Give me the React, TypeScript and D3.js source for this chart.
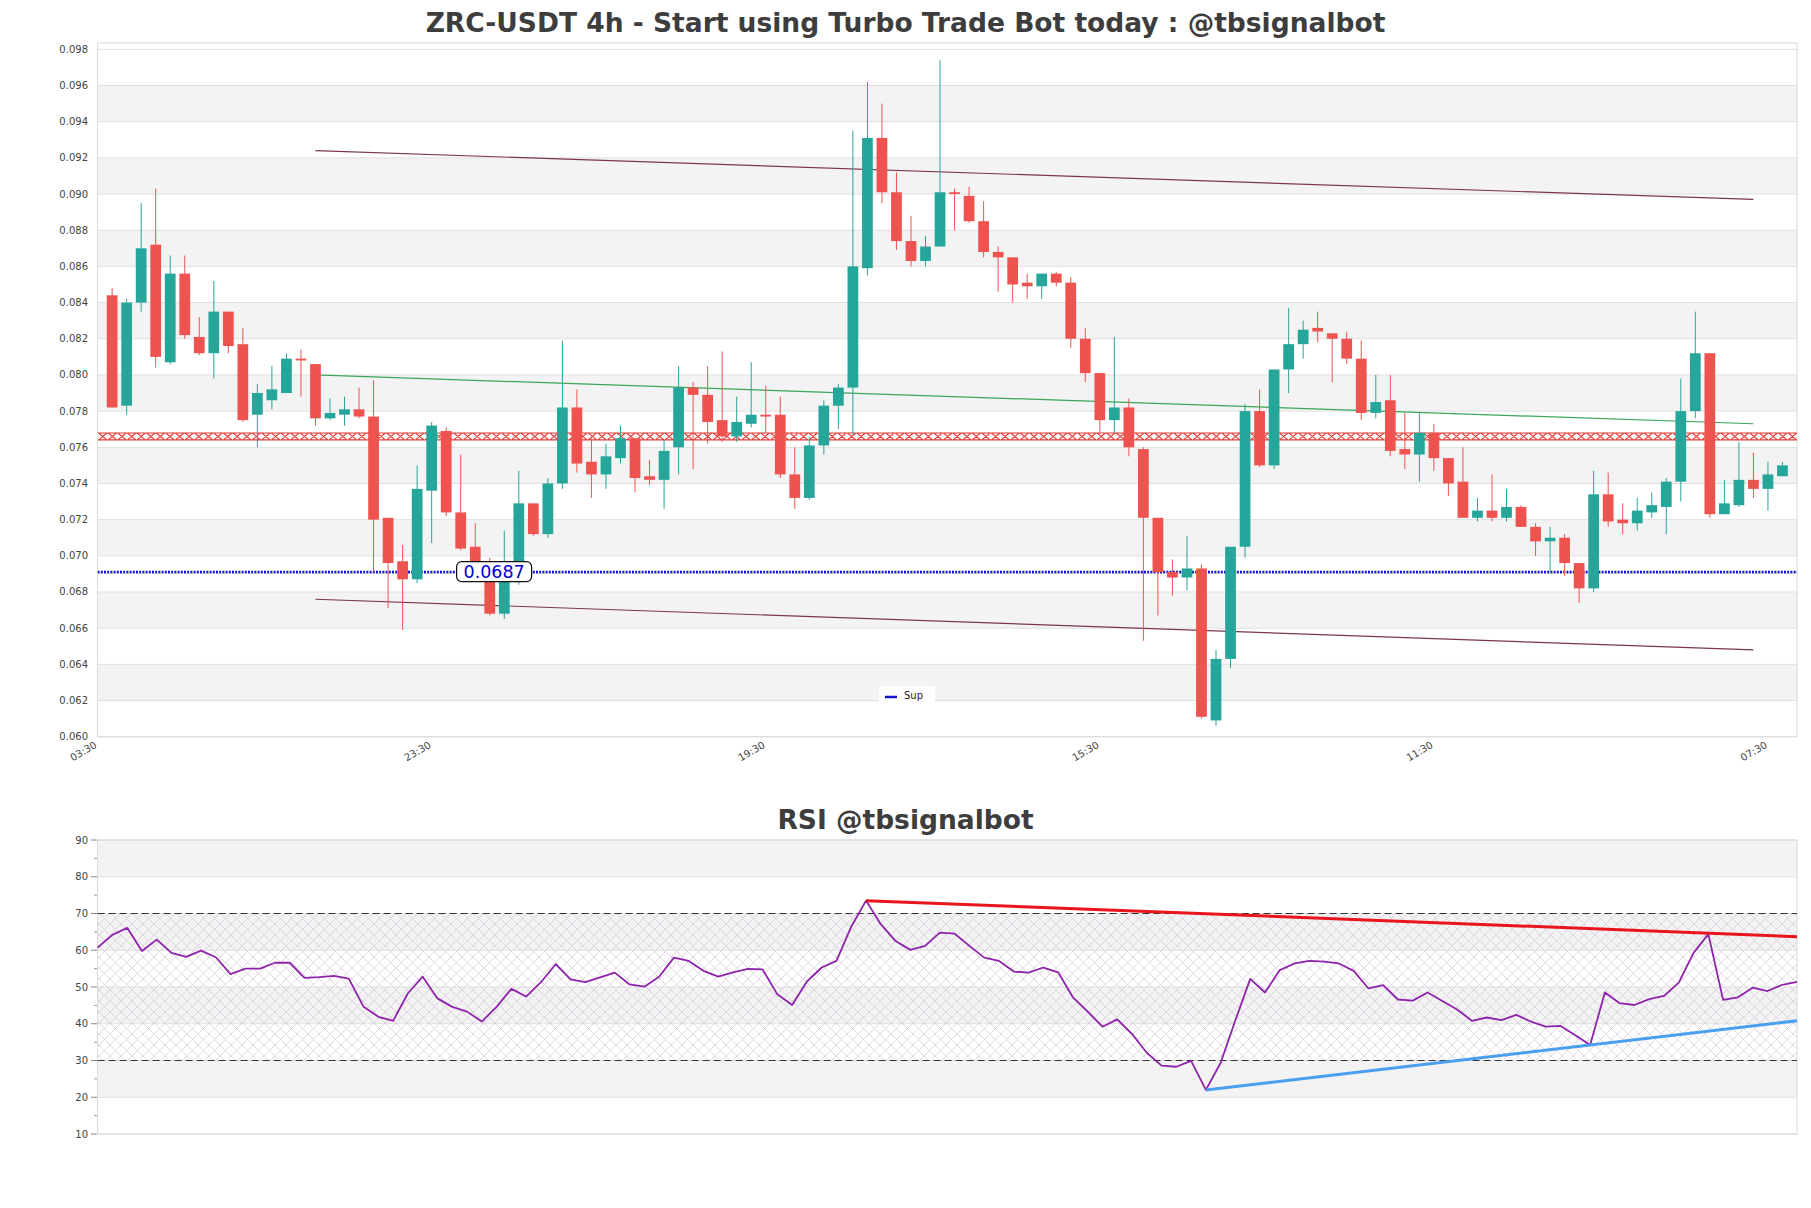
import React from 'react';
import * as d3 from 'd3';

// ---------- DATA ----------
const opens = [
  0.0844, 0.0783, 0.0840, 0.0872, 0.0807, 0.0856, 0.0821, 0.0812, 0.0835, 0.0817,
  0.0778, 0.0786, 0.0790, 0.0809, 0.0806, 0.0776, 0.0778, 0.0781, 0.0777, 0.0721,
  0.0697, 0.0687, 0.0736, 0.0769, 0.0724, 0.0705, 0.0695, 0.0668, 0.0697, 0.0729,
  0.0712, 0.0740, 0.0782, 0.0752, 0.0745, 0.0754, 0.0765, 0.0744, 0.0742, 0.0760,
  0.0793, 0.0789, 0.0775, 0.0766, 0.0773, 0.0778, 0.0778, 0.0745, 0.0732, 0.0761,
  0.0783, 0.0793, 0.0859, 0.0931, 0.0901, 0.0874, 0.0863, 0.0871, 0.0901, 0.0899,
  0.0885, 0.0868, 0.0865, 0.0851, 0.0849, 0.0856, 0.0851, 0.0820, 0.0801, 0.0775,
  0.0782, 0.0759, 0.0721, 0.0691, 0.0688, 0.0693, 0.0609, 0.0643, 0.0705, 0.0780,
  0.0750, 0.0803, 0.0817, 0.0826, 0.0823, 0.0820, 0.0809, 0.0779, 0.0786, 0.0759,
  0.0756, 0.0768, 0.0754, 0.0741, 0.0721, 0.0725, 0.0721, 0.0727, 0.0716, 0.0708,
  0.0710, 0.0696, 0.0682, 0.0734, 0.0720, 0.0718, 0.0724, 0.0727, 0.0741, 0.0780,
  0.0812, 0.0723, 0.0728, 0.0742, 0.0737, 0.0744,
];
const highs = [
  0.0848, 0.0842, 0.0895, 0.0903, 0.0866, 0.0866, 0.0832, 0.0852, 0.0835, 0.0826,
  0.0795, 0.0805, 0.0812, 0.0814, 0.0806, 0.0787, 0.0788, 0.0793, 0.0797, 0.0721,
  0.0706, 0.0750, 0.0774, 0.0771, 0.0756, 0.0718, 0.0699, 0.0714, 0.0747, 0.0729,
  0.0743, 0.0819, 0.0792, 0.0765, 0.0762, 0.0772, 0.0765, 0.0753, 0.0764, 0.0805,
  0.0796, 0.0805, 0.0813, 0.0788, 0.0807, 0.0794, 0.0788, 0.0760, 0.0766, 0.0786,
  0.0795, 0.0935, 0.0962, 0.0950, 0.0912, 0.0888, 0.0877, 0.0974, 0.0903, 0.0904,
  0.0896, 0.0871, 0.0865, 0.0856, 0.0856, 0.0857, 0.0854, 0.0826, 0.0801, 0.0821,
  0.0787, 0.0760, 0.0721, 0.0698, 0.0711, 0.0695, 0.0648, 0.0705, 0.0784, 0.0792,
  0.0803, 0.0837, 0.0830, 0.0835, 0.0823, 0.0824, 0.0819, 0.0800, 0.0800, 0.0779,
  0.0779, 0.0773, 0.0754, 0.0760, 0.0732, 0.0745, 0.0737, 0.0728, 0.0718, 0.0716,
  0.0712, 0.0696, 0.0747, 0.0746, 0.0729, 0.0732, 0.0735, 0.0743, 0.0798, 0.0835,
  0.0812, 0.0742, 0.0763, 0.0757, 0.0752, 0.0752,
];
const lows = [
  0.0782, 0.0778, 0.0835, 0.0804, 0.0806, 0.0820, 0.0811, 0.0798, 0.0812, 0.0774,
  0.0760, 0.0781, 0.0790, 0.0788, 0.0772, 0.0775, 0.0772, 0.0776, 0.0691, 0.0671,
  0.0659, 0.0685, 0.0707, 0.0722, 0.0703, 0.0693, 0.0667, 0.0665, 0.0684, 0.0711,
  0.0710, 0.0737, 0.0746, 0.0732, 0.0737, 0.0751, 0.0735, 0.0739, 0.0726, 0.0745,
  0.0748, 0.0762, 0.0763, 0.0763, 0.0771, 0.0768, 0.0743, 0.0726, 0.0731, 0.0756,
  0.0770, 0.0767, 0.0855, 0.0895, 0.0869, 0.0860, 0.0860, 0.0871, 0.0880, 0.0884,
  0.0865, 0.0846, 0.0840, 0.0842, 0.0842, 0.0849, 0.0815, 0.0796, 0.0768, 0.0768,
  0.0755, 0.0653, 0.0667, 0.0678, 0.0681, 0.0610, 0.0606, 0.0638, 0.0699, 0.0749,
  0.0748, 0.0790, 0.0809, 0.0818, 0.0796, 0.0806, 0.0775, 0.0776, 0.0755, 0.0748,
  0.0741, 0.0747, 0.0733, 0.0721, 0.0719, 0.0719, 0.0719, 0.0716, 0.0700, 0.0691,
  0.0689, 0.0674, 0.0680, 0.0716, 0.0712, 0.0714, 0.0721, 0.0712, 0.0730, 0.0776,
  0.0721, 0.0723, 0.0727, 0.0732, 0.0725, 0.0744,
];
const closes = [
  0.0782, 0.0840, 0.0870, 0.0810, 0.0856, 0.0822, 0.0812, 0.0835, 0.0816, 0.0775,
  0.0790, 0.0792, 0.0809, 0.0808, 0.0776, 0.0779, 0.0781, 0.0777, 0.0720, 0.0696,
  0.0687, 0.0737, 0.0772, 0.0724, 0.0704, 0.0695, 0.0668, 0.0697, 0.0729, 0.0712,
  0.0740, 0.0782, 0.0751, 0.0745, 0.0755, 0.0765, 0.0743, 0.0742, 0.0758, 0.0793,
  0.0789, 0.0774, 0.0766, 0.0774, 0.0778, 0.0777, 0.0745, 0.0732, 0.0761, 0.0783,
  0.0793, 0.0860, 0.0931, 0.0901, 0.0874, 0.0863, 0.0871, 0.0901, 0.0900, 0.0885,
  0.0868, 0.0865, 0.0850, 0.0849, 0.0856, 0.0851, 0.0820, 0.0801, 0.0775, 0.0782,
  0.0760, 0.0721, 0.0691, 0.0688, 0.0693, 0.0611, 0.0643, 0.0705, 0.0780, 0.0750,
  0.0803, 0.0817, 0.0825, 0.0824, 0.0820, 0.0809, 0.0779, 0.0785, 0.0758, 0.0756,
  0.0768, 0.0754, 0.0740, 0.0721, 0.0725, 0.0721, 0.0727, 0.0716, 0.0708, 0.0710,
  0.0696, 0.0682, 0.0734, 0.0719, 0.0718, 0.0725, 0.0728, 0.0741, 0.0780, 0.0812,
  0.0723, 0.0729, 0.0742, 0.0737, 0.0745, 0.0750,
];
const rsiValues = [
  60.7, 64.2, 66.1, 59.8, 62.9, 59.3, 58.2, 59.9, 58.1, 53.5,
  55.0, 55.0, 56.6, 56.6, 52.5, 52.7, 53.0, 52.3, 44.6, 41.9,
  40.8, 48.3, 52.8, 46.9, 44.6, 43.3, 40.6, 44.6, 49.5, 47.4,
  51.3, 56.2, 52.1, 51.3, 52.6, 53.9, 50.7, 50.1, 52.8, 58.0,
  57.1, 54.4, 52.8, 54.0, 54.9, 54.8, 48.0, 45.1, 51.5, 55.3,
  57.1, 66.4, 73.5, 67.1, 62.5, 60.1, 61.2, 64.8, 64.5, 61.2,
  58.0, 57.1, 54.2, 53.9, 55.3, 54.0, 47.2, 43.3, 39.2, 41.2,
  37.2, 32.1, 28.6, 28.3, 29.9, 22.0, 29.4, 41.0, 52.2, 48.5,
  54.6, 56.4, 57.1, 56.9, 56.4, 54.4, 49.6, 50.5, 46.6, 46.3,
  48.5, 46.2, 43.9, 40.8, 41.7, 41.0, 42.4, 40.6, 39.2, 39.4,
  36.9, 34.2, 48.5, 45.6, 45.1, 46.7, 47.6, 51.2, 59.3, 64.4,
  46.5, 47.2, 49.8, 48.9, 50.6, 51.4,
];
const xTickIndex = [-1, 22, 45, 68, 91, 114];
const xTickLabels = ['03:30', '23:30', '19:30', '15:30', '11:30', '07:30'];
const priceTicks = [
  0.060, 0.062, 0.064, 0.066, 0.068, 0.070, 0.072, 0.074, 0.076, 0.078,
  0.080, 0.082, 0.084, 0.086, 0.088, 0.090, 0.092, 0.094, 0.096, 0.098,
];
const rsiTicks = [10, 20, 30, 40, 50, 60, 70, 80, 90];
const rsiMinorTicks = [15, 25, 35, 45, 55, 65, 75, 85];
const channelUpper = [[14, 0.0924], [113, 0.0897]];
const channelLower = [[14, 0.0676], [113, 0.0648]];
const midLine = [[14, 0.0800], [113, 0.0773]];
const resistanceLevel = 0.0766;
const supportLevel = 0.0691;
const supportLabel = '0.0687';
const supportLabelIndex = 26.3;
const rsiResistance = [[52, 73.5], [115, 63.7]];
const rsiSupport = [[75, 22.0], [115, 40.8]];
const mainTitle = 'ZRC-USDT 4h - Start using Turbo Trade Bot today : @tbsignalbot';
const rsiTitle = 'RSI @tbsignalbot';
const legendLabel = 'Sup';

// ---------- LAYOUT ----------
const W = 1811;
const H = 1208;
const L = 97.6;
const R = 1797;
const mainTop = 43;
const mainBottom = 736.7;
const rsiTop = 840;
const rsiBottom = 1134;
const FONT = '"DejaVu Sans", Verdana, sans-serif';
const GREEN = '#26a69a';
const RED = '#ef5350';

export default function App() {
  const n = closes.length;
  const x = d3.scaleLinear().domain([-1, n]).range([L, R]);
  const y = d3.scaleLinear().domain([0.06, 0.09835]).range([mainBottom, mainTop]);
  const xr = d3.scaleLinear().domain([0, n - 1]).range([L, R]);
  const yr = d3.scaleLinear().domain([10, 90]).range([rsiBottom, rsiTop]);
  const step = x(1) - x(0);
  const bodyW = step * 0.74;

  const seg = (pts: number[][], sx: any, sy: any) =>
    d3.line<number[]>().x((d) => sx(d[0])).y((d) => sy(d[1]))(pts) as string;

  const rsiLine = d3
    .line<number>()
    .x((_, i) => xr(i))
    .y((d) => yr(d))(rsiValues) as string;

  // hourglass chain for resistance level
  const hgW = 8.4;
  const hgH = 6.8;
  const hgStep = 9.6;
  const ry = y(resistanceLevel);
  const hgPath = d3
    .range(L + hgW / 2 + 1, R - hgW / 2, hgStep)
    .map(
      (cx) =>
        `M${cx - hgW / 2},${ry - hgH / 2}L${cx + hgW / 2},${ry - hgH / 2}L${cx - hgW / 2},${ry + hgH / 2}L${cx + hgW / 2},${ry + hgH / 2}Z`
    )
    .join('');

  const sy = y(supportLevel);
  const labelCx = x(supportLabelIndex);

  return (
    <svg
      width={W}
      height={H}
      style={{ position: 'absolute', left: 0, top: 0, background: '#fff' }}
      fontFamily={FONT}
    >
      <defs>
        <pattern id="hatch" width="11" height="11" patternUnits="userSpaceOnUse">
          <path d="M0,0L11,11M11,0L0,11" stroke="#d4c6da" strokeWidth="0.7" fill="none" />
        </pattern>
        <clipPath id="mainClip">
          <rect x={L} y={mainTop} width={R - L} height={mainBottom - mainTop} />
        </clipPath>
      </defs>
      <rect x={0} y={0} width={W} height={H} fill="#fff" />

      {/* ===== MAIN TITLE ===== */}
      <text x={W / 2} y={32} textAnchor="middle" fontSize={26.5} fontWeight="bold" fill="#3d3d3d">
        {mainTitle}
      </text>

      {/* ===== MAIN PLOT BACKGROUND ===== */}
      {priceTicks.slice(0, -1).map((t, k) =>
        Math.round(t / 0.002) % 2 === 1 ? (
          <rect key={'b' + k} x={L} y={y(t + 0.002)} width={R - L} height={y(t) - y(t + 0.002)} fill="#f3f3f3" />
        ) : null
      )}
      {priceTicks.map((t, k) => (
        <line key={'g' + k} x1={L} x2={R} y1={y(t)} y2={y(t)} stroke="#e0e0e0" strokeWidth={1} />
      ))}
      <rect x={L} y={mainTop} width={R - L} height={mainBottom - mainTop} fill="none" stroke="#d9d9d9" strokeWidth={1} />

      {/* y labels */}
      {priceTicks.map((t, k) => (
        <text key={'yl' + k} x={88} y={y(t)} dy="0.35em" textAnchor="end" fontSize={10} fill="#444">
          {t.toFixed(3)}
        </text>
      ))}
      {/* x labels */}
      {xTickIndex.map((ix, k) => (
        <text
          key={'xl' + k}
          transform={`translate(${x(ix)},${747}) rotate(-30)`}
          textAnchor="end"
          fontSize={10}
          fill="#444"
        >
          {xTickLabels[k]}
        </text>
      ))}

      <g clipPath="url(#mainClip)">
        {/* channel & mid lines */}
        <path d={seg(channelUpper, x, y)} stroke="#7a3550" strokeWidth={1.2} fill="none" />
        <path d={seg(channelLower, x, y)} stroke="#7a3550" strokeWidth={1.2} fill="none" />
        <path d={seg(midLine, x, y)} stroke="#3aa657" strokeWidth={1.2} fill="none" />

        {/* resistance hourglass chain */}
        <path d={hgPath} stroke="#e53935" strokeWidth={1.1} fill="none" />

        {/* support dotted */}
        <line x1={L} x2={R} y1={sy} y2={sy} stroke="#1414cc" strokeWidth={2.6} strokeDasharray="2,1.2" />

        {/* candles */}
        {closes.map((c, i) => {
          const o = opens[i];
          const up = c >= o;
          const col = up ? GREEN : RED;
          const top = y(Math.max(o, c));
          const bot = y(Math.min(o, c));
          return (
            <g key={'c' + i}>
              <line x1={x(i)} x2={x(i)} y1={y(highs[i])} y2={y(lows[i])} stroke={col} strokeWidth={1} />
              <rect x={x(i) - bodyW / 2} y={top} width={bodyW} height={Math.max(bot - top, 1.5)} fill={col} />
            </g>
          );
        })}

        {/* support label */}
        <rect x={labelCx - 37.5} y={sy - 10.5} width={75} height={20} rx={5} ry={5} fill="#fff" stroke="#111" strokeWidth={1.2} />
        <text x={labelCx} y={sy} dy="0.36em" textAnchor="middle" fontSize={17.5} fill="#0000cc">
          {supportLabel}
        </text>

        {/* legend */}
        <rect x={879} y={686} width={56} height={18} fill="#fff" />
        <line x1={885} x2={897} y1={697} y2={697} stroke="#1414cc" strokeWidth={2.5} />
        <text x={904} y={698} dy="0.1em" fontSize={10} fill="#222">
          {legendLabel}
        </text>
      </g>

      {/* ===== RSI ===== */}
      <text x={W / 2} y={829} textAnchor="middle" fontSize={26.5} fontWeight="bold" fill="#3d3d3d">
        {rsiTitle}
      </text>
      {rsiTicks.slice(0, -1).map((t, k) =>
        Math.round(t / 10) % 2 === 0 ? (
          <rect key={'rb' + k} x={L} y={yr(t + 10)} width={R - L} height={yr(t) - yr(t + 10)} fill="#f3f3f3" />
        ) : null
      )}
      {rsiTicks.map((t, k) => (
        <line key={'rg' + k} x1={L} x2={R} y1={yr(t)} y2={yr(t)} stroke="#e0e0e0" strokeWidth={1} />
      ))}
      <rect x={L} y={yr(70)} width={R - L} height={yr(30) - yr(70)} fill="url(#hatch)" />
      <rect x={L} y={rsiTop} width={R - L} height={rsiBottom - rsiTop} fill="none" stroke="#d9d9d9" strokeWidth={1} />
      {[70, 30].map((v) => (
        <line key={'d' + v} x1={L} x2={R} y1={yr(v)} y2={yr(v)} stroke="#333" strokeWidth={1.2} strokeDasharray="7,4" />
      ))}
      {rsiTicks.map((t, k) => (
        <g key={'rt' + k}>
          <line x1={91} x2={97} y1={yr(t)} y2={yr(t)} stroke="#888" strokeWidth={1} />
          <text x={88} y={yr(t)} dy="0.35em" textAnchor="end" fontSize={10} fill="#444">
            {t}
          </text>
        </g>
      ))}
      {rsiMinorTicks.map((t, k) => (
        <line key={'rm' + k} x1={94} x2={97} y1={yr(t)} y2={yr(t)} stroke="#999" strokeWidth={1} />
      ))}
      <path d={rsiLine} stroke="#8e24aa" strokeWidth={1.8} fill="none" strokeLinejoin="round" />
      <path d={seg(rsiResistance, xr, yr)} stroke="#e8141e" strokeWidth={3} fill="none" />
      <path d={seg(rsiSupport, xr, yr)} stroke="#4a9ff0" strokeWidth={3} fill="none" />
    </svg>
  );
}
